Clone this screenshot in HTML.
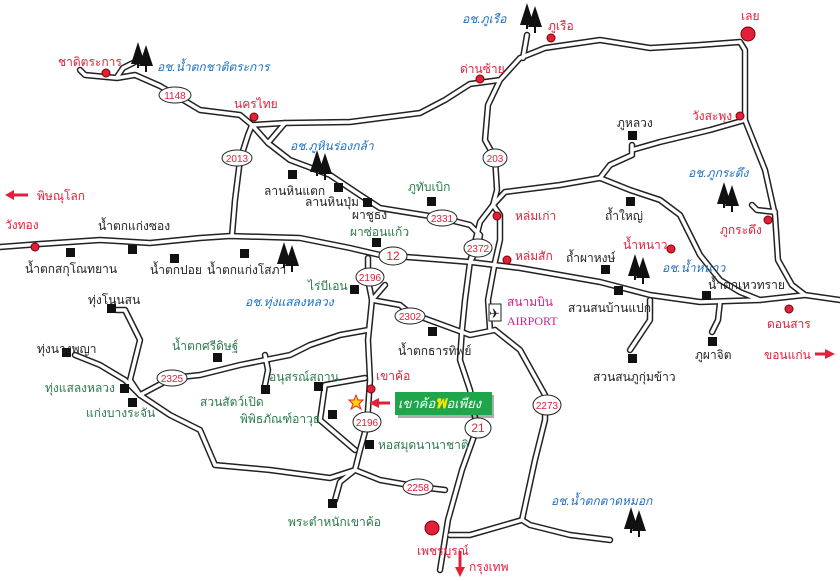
<!DOCTYPE html>
<html><head><meta charset="utf-8"><style>
html,body{margin:0;padding:0;background:#fff;}
svg{display:block;}
text{font-family:"Liberation Sans","Noto Sans CJK SC",sans-serif;font-size:12px;}
.r{fill:#e3203a}.g{fill:#2c7a4c}.b{fill:#222}.bl{fill:#1f6fbf;font-style:italic}
.sh text{fill:#e3203a;font-size:10px;text-anchor:middle}
</style></head><body>
<svg width="840" height="581" viewBox="0 0 840 581" xmlns="http://www.w3.org/2000/svg">
<defs>
<g id="tree"><polygon points="0,22 7,0 14,22" fill="#111"/><rect x="6" y="20" width="2" height="6" fill="#111"/><polygon points="8,24 15,3 22,24" fill="#111"/><rect x="14" y="22" width="2" height="8" fill="#111"/></g>
<g id="roads">
<path d="M80,70 L85,75 117,78 135,75 160,86 200,110 240,115 252,125 285,123 350,122 420,113 445,100 470,84 500,80 520,58 545,48 600,40 650,48 700,45 740,42"/>
<path d="M117,77 L123,68 135,62"/>
<path d="M527,35 L523,58"/>
<path d="M740,42 L745,50 745,120 765,170 775,215 778,260 792,285 805,295 840,300"/>
<path d="M500,80 L488,105 485,140 495,158 497,190 493,205 480,222 470,262 465,300 462,330 460,360 470,390 477,428 462,470 448,520 440,570"/>
<path d="M493,205 L500,215 500,240 495,262 488,300 490,330"/>
<path d="M0,247 L40,244 100,240 150,243 200,238 230,236 300,238 350,248 380,255 420,258 470,262 520,268 600,282 650,295 700,302 760,300 805,295"/>
<path d="M252,125 L248,135 240,160 235,200 232,236"/>
<path d="M252,125 L268,143 290,160 330,175 360,195 380,208 442,218 470,225 480,235 478,248 470,262"/>
<path d="M285,123 L268,143"/>
<path d="M493,205 L505,192 560,185 600,178 630,190 660,200 680,215 700,255 720,280 740,292 760,300"/>
<path d="M632,145 L632,155 610,165 600,178"/>
<path d="M632,150 L660,142 710,130 745,120"/>
<path d="M752,205 L757,210 775,212"/>
<path d="M368,258 L368,280 372,300 400,305 410,313 470,335 495,330"/>
<path d="M372,300 L385,285"/>
<path d="M372,300 L368,340 370,380 367,425 360,450 355,470 340,482 335,500"/>
<path d="M368,330 L340,335 310,345 290,355 240,365 200,375 172,378 140,395"/>
<path d="M265,355 L268,370 265,385"/>
<path d="M140,395 L130,380 140,340 125,310 116,310"/>
<path d="M75,355 L100,365 125,380 140,395"/>
<path d="M140,395 L170,415 200,430 215,465 270,470 330,478 355,470"/>
<path d="M355,470 L380,480 420,487 445,490"/>
<path d="M365,378 L325,385 320,420 355,450"/>
<path d="M495,330 L520,350 545,395 545,420 535,460 522,520 530,525 570,535 610,540"/>
<path d="M522,520 L470,535 450,535"/>
<path d="M650,300 L650,320 630,350"/>
<path d="M720,302 L718,320 712,332"/>
</g>
</defs>
<use href="#roads" fill="none" stroke="#222" stroke-width="6.5" stroke-linejoin="round" stroke-linecap="round"/>
<use href="#roads" fill="none" stroke="#fff" stroke-width="3.5" stroke-linejoin="round" stroke-linecap="round"/>
<g>
<g class="sh"><ellipse cx="175" cy="95" rx="16" ry="8" fill="#fff" stroke="#222"/><text x="175" y="99">1148</text></g>
<g class="sh"><ellipse cx="237" cy="158" rx="15" ry="8" fill="#fff" stroke="#222"/><text x="237" y="162">2013</text></g>
<g class="sh"><ellipse cx="495" cy="158" rx="12" ry="9" fill="#fff" stroke="#222"/><text x="495" y="162">203</text></g>
<g class="sh"><ellipse cx="442" cy="218" rx="15" ry="8" fill="#fff" stroke="#222"/><text x="442" y="222">2331</text></g>
<g class="sh"><ellipse cx="478" cy="248" rx="14" ry="9" fill="#fff" stroke="#222"/><text x="478" y="252">2372</text></g>
<g class="sh"><ellipse cx="393" cy="256" rx="14" ry="9" fill="#fff" stroke="#222"/><text x="393" y="260" style="font-size:12px">12</text></g>
<g class="sh"><ellipse cx="370" cy="277" rx="14" ry="9" fill="#fff" stroke="#222"/><text x="370" y="281">2196</text></g>
<g class="sh"><ellipse cx="410" cy="316" rx="15" ry="8" fill="#fff" stroke="#222"/><text x="410" y="320">2302</text></g>
<g class="sh"><ellipse cx="172" cy="378" rx="15" ry="8" fill="#fff" stroke="#222"/><text x="172" y="382">2325</text></g>
<g class="sh"><ellipse cx="367" cy="422" rx="14" ry="10" fill="#fff" stroke="#222"/><text x="367" y="426">2196</text></g>
<g class="sh"><ellipse cx="478" cy="428" rx="13" ry="10" fill="#fff" stroke="#222"/><text x="478" y="432" style="font-size:12px">21</text></g>
<g class="sh"><ellipse cx="547" cy="405" rx="14" ry="10" fill="#fff" stroke="#222"/><text x="547" y="409">2273</text></g>
<g class="sh"><ellipse cx="418" cy="487" rx="15" ry="8" fill="#fff" stroke="#222"/><text x="418" y="491">2258</text></g>
</g>
<use href="#tree" x="131" y="42"/><use href="#tree" x="310" y="150"/><use href="#tree" x="277" y="242"/>
<use href="#tree" x="520" y="3"/><use href="#tree" x="717" y="182"/><use href="#tree" x="628" y="254"/><use href="#tree" x="624" y="507"/>
<g fill="#e3203a" stroke="#7a0000" stroke-width="1">
<circle cx="106" cy="73" r="4"/><circle cx="254" cy="117" r="4"/><circle cx="551" cy="38" r="4"/><circle cx="480" cy="79" r="4"/>
<circle cx="748" cy="34" r="7"/><circle cx="740" cy="116" r="4"/><circle cx="497" cy="216" r="4"/><circle cx="507" cy="260" r="4"/>
<circle cx="768" cy="220" r="4"/><circle cx="671" cy="249" r="4"/><circle cx="789" cy="309" r="4"/><circle cx="35" cy="247" r="4"/>
<circle cx="371" cy="389" r="4"/><circle cx="432" cy="528" r="7"/>
</g>
<g fill="#111">
<rect x="288" y="170" width="9" height="9"/><rect x="334" y="183" width="9" height="9"/><rect x="363" y="198" width="9" height="9"/>
<rect x="427" y="197" width="9" height="9"/><rect x="372" y="238" width="9" height="9"/><rect x="350" y="285" width="9" height="9"/>
<rect x="428" y="327" width="9" height="9"/><rect x="628" y="131" width="9" height="9"/><rect x="626" y="197" width="9" height="9"/>
<rect x="601" y="265" width="9" height="9"/><rect x="614" y="286" width="9" height="9"/><rect x="702" y="291" width="9" height="9"/>
<rect x="708" y="337" width="9" height="9"/><rect x="628" y="354" width="9" height="9"/><rect x="66" y="248" width="9" height="9"/>
<rect x="128" y="245" width="9" height="9"/><rect x="170" y="254" width="9" height="9"/><rect x="240" y="249" width="9" height="9"/>
<rect x="107" y="304" width="9" height="9"/><rect x="62" y="348" width="9" height="9"/><rect x="120" y="384" width="9" height="9"/>
<rect x="128" y="398" width="9" height="9"/><rect x="213" y="353" width="9" height="9"/><rect x="261" y="385" width="9" height="9"/>
<rect x="314" y="382" width="9" height="9"/><rect x="328" y="410" width="9" height="9"/><rect x="365" y="440" width="9" height="9"/>
<rect x="328" y="499" width="9" height="9"/>
</g>
<rect x="489" y="304" width="12" height="17" fill="#fff" stroke="#222"/><text x="489" y="318" class="b" style="font-size:13px">✈</text>
<text x="58" y="66" class="r">ชาดิตระการ</text>
<text x="157" y="71" class="bl">อช.น้ำตกชาติตระการ</text>
<text x="234" y="108" class="r">นครไทย</text>
<text x="290" y="150" class="bl">อช.ภูหินร่องกล้า</text>
<text x="264" y="195" class="b">ลานหินแตก</text>
<text x="305" y="206" class="b">ลานหินปุ่ม</text>
<text x="352" y="219" class="b">ผาชูธง</text>
<text x="408" y="191" class="g">ภูทับเบิก</text>
<text x="350" y="236" class="g">ผาซ่อนแก้ว</text>
<text x="308" y="290" class="g">ไร่บีเอน</text>
<text x="245" y="306" class="bl">อช.ทุ่งแสลงหลวง</text>
<text x="398" y="355" class="b">น้ำตกธารทิพย์</text>
<text x="507" y="306" style="fill:#d0208a">สนามบิน</text>
<text x="507" y="325" style="fill:#d0208a;font-family:'Liberation Serif',serif;font-size:12px">AIRPORT</text>
<text x="462" y="23" class="bl">อช.ภูเรือ</text>
<text x="548" y="30" class="r">ภูเรือ</text>
<text x="460" y="73" class="r">ด่านซ้าย</text>
<text x="741" y="20" class="r">เลย</text>
<text x="692" y="120" class="r">วังสะพุง</text>
<text x="617" y="127" class="b">ภูหลวง</text>
<text x="688" y="177" class="bl">อช.ภูกระดึง</text>
<text x="720" y="234" class="r">ภูกระดึง</text>
<text x="605" y="220" class="b">ถ้ำใหญ่</text>
<text x="623" y="249" class="r">น้ำหนาว</text>
<text x="515" y="220" class="r">หล่มเก่า</text>
<text x="515" y="260" class="r">หล่มสัก</text>
<text x="566" y="262" class="b">ถ้ำผาหงษ์</text>
<text x="662" y="272" class="bl">อช.น้ำหนาว</text>
<text x="708" y="289" class="b">น้ำตกเหวทราย</text>
<text x="568" y="312" class="b">สวนสนบ้านแปก</text>
<text x="767" y="328" class="r">ดอนสาร</text>
<text x="764" y="359" class="r">ขอนแก่น</text>
<text x="695" y="359" class="b">ภูผาจิต</text>
<text x="593" y="381" class="b">สวนสนภูกุ่มข้าว</text>
<text x="551" y="505" class="bl">อช.น้ำตกตาดหมอก</text>
<text x="417" y="555" class="r">เพชรบูรณ์</text>
<text x="469" y="571" class="r">กรุงเทพ</text>
<text x="378" y="449" class="g">หอสมุดนานาชาติ</text>
<text x="288" y="526" class="g">พระตำหนักเขาค้อ</text>
<text x="240" y="423" class="g">พิพิธภัณฑ์อาวุธ</text>
<text x="269" y="381" class="g">อนุสรณ์สถาน</text>
<text x="200" y="406" class="g">สวนสัตว์เปิด</text>
<text x="172" y="350" class="g">น้ำตกศรีดิษฐ์</text>
<text x="45" y="392" class="g">ทุ่งแสลงหลวง</text>
<text x="86" y="417" class="g">แก่งบางระจัน</text>
<text x="37" y="353" class="b">ทุ่งนางพญา</text>
<text x="88" y="304" class="b">ทุ่งโนนสน</text>
<text x="376" y="380" class="r">เขาค้อ</text>
<text x="5" y="229" class="r">วังทอง</text>
<text x="98" y="230" class="b">น้ำตกแก่งซอง</text>
<text x="25" y="273" class="b">น้ำตกสกุโณทยาน</text>
<text x="150" y="274" class="b">น้ำตกปอย</text>
<text x="207" y="274" class="b">น้ำตกแก่งโสภา</text>
<text x="37" y="200" class="r">พิษณุโลก</text>
<g fill="#e3203a" stroke="#e3203a">
<line x1="12" y1="195" x2="28" y2="195" stroke-width="3"/><polygon points="5,195 14,190 14,200" stroke="none"/>
<line x1="815" y1="354" x2="826" y2="354" stroke-width="3"/><polygon points="835,354 825,349 825,359" stroke="none"/>
<line x1="460" y1="551" x2="460" y2="568" stroke-width="3"/><polygon points="460,577 455,567 465,567" stroke="none"/>
<line x1="378" y1="403" x2="390" y2="403" stroke-width="3"/><polygon points="369,403 379,398 379,408" stroke="none"/>
</g>
<polygon points="356,395 358,400 363,400 359,404 361,409 356,406 351,409 353,404 349,400 354,400" fill="#ffd400" stroke="#e3203a"/>
<rect x="398" y="395" width="96" height="23" fill="#111" opacity="0.35"/>
<rect x="395" y="392" width="97" height="23" fill="#1fa64a"/>
<text x="398" y="408" style="fill:#fff;font-style:italic;font-size:13px">เขาค้อ<tspan style="fill:#ffe600;font-size:17px;font-weight:bold">พ</tspan>อเพียง</text>
</svg>
</body></html>
